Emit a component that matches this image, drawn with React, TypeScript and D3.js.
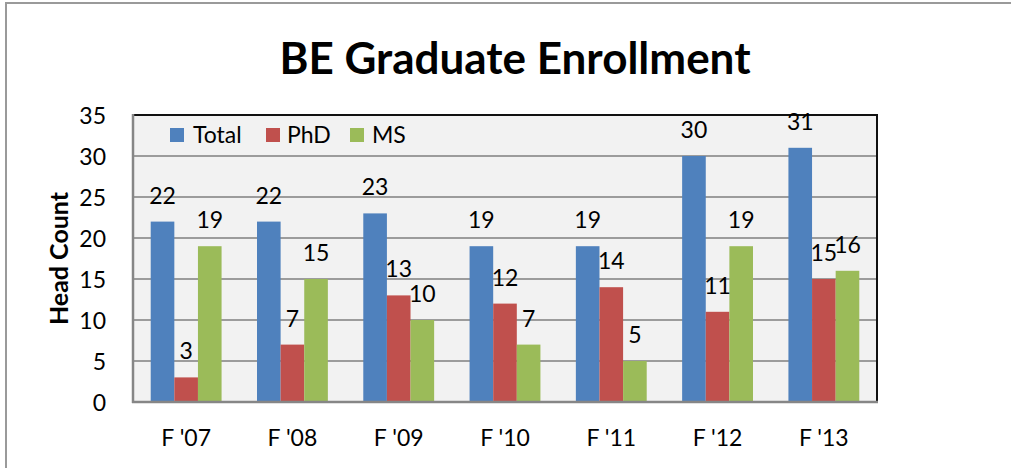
import React from "react";
import * as d3 from "d3";

const categories = ["F '07", "F '08", "F '09", "F '10", "F '11", "F '12", "F '13"];
const seriesNames = ["Total", "PhD", "MS"];
const totalValues = [22, 22, 23, 19, 19, 30, 31];
const phdValues = [3, 7, 13, 12, 14, 11, 15];
const msValues = [19, 15, 10, 7, 5, 19, 16];
const yTicks = [0, 5, 10, 15, 20, 25, 30, 35];
const colors = ["#4F81BD", "#C0504D", "#9BBB59"];

const W = 1011;
const H = 468;
const plot = { left: 133, right: 877, top: 115, bottom: 402 };
const FONT = "Lato, 'Open Sans', sans-serif";
const FS = 23;

export default function App() {
  const series = [totalValues, phdValues, msValues];
  const x = d3
    .scaleBand<string>()
    .domain(categories)
    .range([plot.left, plot.right])
    .paddingInner(1 / 3)
    .paddingOuter(1 / 6);
  const xs = d3.scaleBand<string>().domain(seriesNames).range([0, x.bandwidth()]).padding(0);
  const y = d3.scaleLinear().domain([0, 35]).range([plot.bottom, plot.top]);

  const legendX = [170, 266, 350];
  const legendTextX = [193, 287, 372];

  return (
    <svg width={W} height={H} style={{ position: "absolute", left: 0, top: 0, background: "#fff" }} fontFamily={FONT}>
      <rect x={0} y={0} width={W} height={H} fill="#fff" />
      {/* outer chart frame */}
      <rect x={6} y={3} width={W + 100} height={H + 100} fill="none" stroke="#9a9a9a" strokeWidth={2} />
      {/* title */}
      <text x={515} y={74} textAnchor="middle" fontSize={44} fontWeight={700} fill="#000">
        BE Graduate Enrollment
      </text>
      {/* plot area */}
      <rect x={plot.left} y={plot.top} width={plot.right - plot.left} height={plot.bottom - plot.top} fill="#F2F2F2" />
      {yTicks
        .filter((t) => t > 0 && t < 35)
        .map((t) => (
          <line key={t} x1={plot.left} x2={plot.right} y1={y(t)} y2={y(t)} stroke="#9c9c9c" strokeWidth={2} />
        ))}
      {/* bars */}
      {categories.map((c, i) =>
        series.map((vals, s) => (
          <rect
            key={c + s}
            x={(x(c) as number) + (xs(seriesNames[s]) as number)}
            y={y(vals[i])}
            width={xs.bandwidth()}
            height={y(0) - y(vals[i])}
            fill={colors[s]}
          />
        ))
      )}
      {/* border */}
      <line x1={plot.left} x2={plot.right + 1} y1={plot.top} y2={plot.top} stroke="#111" strokeWidth={2} />
      <line x1={plot.right} x2={plot.right} y1={plot.top} y2={plot.bottom} stroke="#111" strokeWidth={2} />
      <line x1={plot.left} x2={plot.left} y1={plot.top - 1} y2={plot.bottom + 1} stroke="#868686" strokeWidth={2.5} />
      <line x1={plot.left - 1} x2={plot.right + 1} y1={plot.bottom} y2={plot.bottom} stroke="#868686" strokeWidth={2.5} />
      {/* data labels */}
      {categories.map((c, i) =>
        series.map((vals, s) => (
          <text
            key={"l" + c + s}
            x={(x(c) as number) + (xs(seriesNames[s]) as number) + xs.bandwidth() / 2}
            y={y(vals[i]) - 27}
            textAnchor="middle"
            dominantBaseline="central"
            fontSize={FS}
            fill="#000"
          >
            {vals[i]}
          </text>
        ))
      )}
      {/* y ticks */}
      {yTicks.map((t) => (
        <text key={"y" + t} x={106} y={y(t)} textAnchor="end" dominantBaseline="central" fontSize={FS} fill="#000">
          {t}
        </text>
      ))}
      {/* x ticks */}
      {categories.map((c) => (
        <text
          key={"x" + c}
          x={(x(c) as number) + x.bandwidth() / 2}
          y={437}
          textAnchor="middle"
          dominantBaseline="central"
          fontSize={FS}
          fill="#000"
        >
          {c}
        </text>
      ))}
      {/* y axis title */}
      <text
        transform={`translate(58, ${(plot.top + plot.bottom) / 2}) rotate(-90)`}
        textAnchor="middle"
        dominantBaseline="central"
        fontSize={25}
        fontWeight={700}
        fill="#000"
      >
        Head Count
      </text>
      {/* legend */}
      {seriesNames.map((n, s) => (
        <g key={"lg" + n}>
          <rect x={legendX[s]} y={128} width={14} height={14} fill={colors[s]} />
          <text x={legendTextX[s]} y={134} dominantBaseline="central" fontSize={FS} fill="#000">
            {n}
          </text>
        </g>
      ))}
    </svg>
  );
}
